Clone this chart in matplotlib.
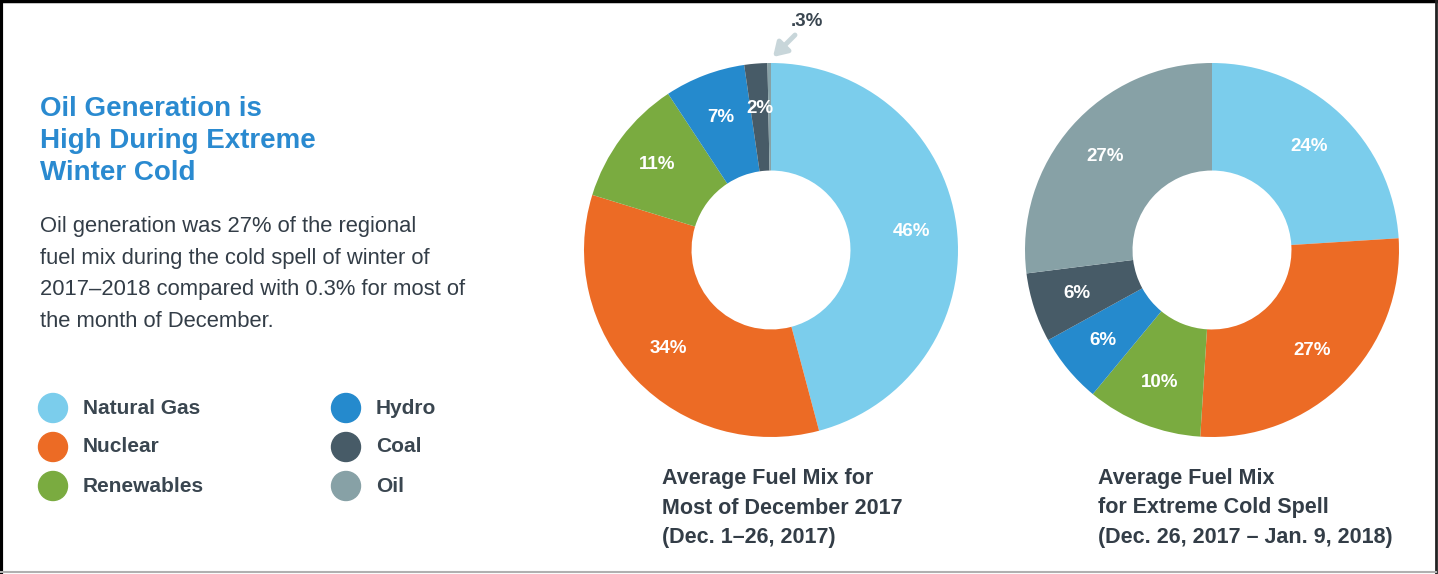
import matplotlib.pyplot as plt
import numpy as np
from matplotlib.lines import Line2D
from matplotlib.patches import Circle

plt.rcParams['font.family'] = ['Liberation Sans', 'DejaVu Sans']

fuels = ['Natural Gas', 'Nuclear', 'Renewables', 'Hydro', 'Coal', 'Oil']
colors = ['#7bcdec', '#ec6b25', '#7aab40', '#258acd', '#475b67', '#87a1a6']

december_mix = [46, 34, 11, 7, 2, 0.3]
december_labels = ['46%', '34%', '11%', '7%', '2%', '']
cold_mix = [24, 27, 10, 6, 6, 27]
cold_labels = ['24%', '27%', '10%', '6%', '6%', '27%']

W, H = 1438, 574
fig = plt.figure(figsize=(W / 100, H / 100), dpi=100)
fig.patch.set_facecolor('white')


def px(x, y):
    return x / W, 1 - y / H


# frame lines
fig.add_artist(Line2D([0.001, 0.001], [0, 1], transform=fig.transFigure, color='black', lw=3))
fig.add_artist(Line2D([0, 1], [0.998, 0.998], transform=fig.transFigure, color='black', lw=2.5))
fig.add_artist(Line2D([1436 / W, 1436 / W], [0, 1], transform=fig.transFigure, color='#222222', lw=2))
fig.add_artist(Line2D([0, 1436 / W], [1 - 572 / H, 1 - 572 / H], transform=fig.transFigure,
                      color='#b0b0b0', lw=1.5))

# heading and body text
title_color = '#2a8ad0'
body_color = '#333d47'
fig.text(*px(40, 141), 'Oil Generation is\nHigh During Extreme\nWinter Cold', color=title_color,
         fontsize=20, fontweight='bold', va='center', ha='left', linespacing=1.3)
fig.text(*px(40, 274), 'Oil generation was 27% of the regional\nfuel mix during the cold spell of winter of\n'
         '2017\u20132018 compared with 0.3% for most of\nthe month of December.',
         color=body_color, fontsize=15.8, va='center', ha='left', linespacing=1.66)

# legend
legend_pos = [(53, 408), (53, 447), (53, 486), (346, 408), (346, 447), (346, 486)]
for name, col, (lx, ly) in zip(fuels, colors, legend_pos):
    fig.add_artist(Circle((lx, H - ly), 14.5, transform=None, color=col))
    fig.text(*px(lx + 30, ly), name, color='#3a4650', fontsize=15, fontweight='bold',
             va='center', ha='left')


def donut(cx, cy, r, values, labels):
    ax = fig.add_axes([(cx - r) / W, (H - cy - r) / H, 2 * r / W, 2 * r / H])
    wedges, _ = ax.pie(values, colors=colors, startangle=90, counterclock=False, radius=1,
                       wedgeprops=dict(width=0.575, linewidth=0))
    for w, lab in zip(wedges, labels):
        if not lab:
            continue
        ang = np.deg2rad((w.theta1 + w.theta2) / 2)
        ax.text(0.76 * np.cos(ang), 0.76 * np.sin(ang), lab, color='white', fontsize=13.5,
                fontweight='bold', ha='center', va='center')
    ax.set_xlim(-1, 1)
    ax.set_ylim(-1, 1)
    ax.axis('off')
    return ax


donut(771, 250, 187, december_mix, december_labels)
donut(1212, 250, 187, cold_mix, cold_labels)

# call-out for the tiny oil slice
fig.text(*px(807, 21), '.3%', color='#3a4650', fontsize=13.5, fontweight='bold', ha='center', va='center')
fig.add_artist(plt.Annotation('', xy=px(773, 57), xytext=px(795, 35), xycoords='figure fraction',
                              textcoords='figure fraction',
                              arrowprops=dict(arrowstyle='-|>,head_width=0.5,head_length=0.8',
                                              color='#c8d6da', lw=3.5, shrinkA=0, shrinkB=0)))

# chart captions
fig.text(*px(662, 508), 'Average Fuel Mix for\nMost of December 2017\n(Dec. 1\u201326, 2017)',
         color='#333d47', fontsize=15.5, fontweight='bold', va='center', ha='left', linespacing=1.56)
fig.text(*px(1098, 508), 'Average Fuel Mix\nfor Extreme Cold Spell\n(Dec. 26, 2017 \u2013 Jan. 9, 2018)',
         color='#333d47', fontsize=15.5, fontweight='bold', va='center', ha='left', linespacing=1.56)

fig.savefig('out.png', dpi=100, facecolor='white')
